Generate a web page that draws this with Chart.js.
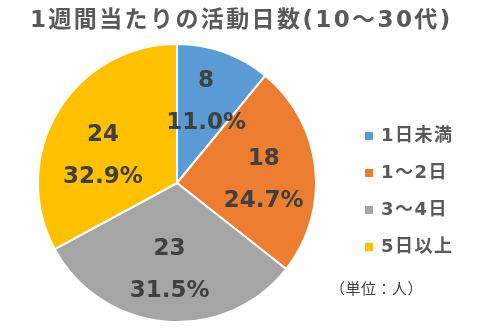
<!DOCTYPE html>
<html>
<head>
<meta charset="utf-8">
<script src="https://cdn.jsdelivr.net/npm/chart.js@4/dist/chart.umd.min.js"></script>
<style>
  html, body { margin: 0; padding: 0; background: #fff; }
</style>
</head>
<body>
<canvas id="graph" width="500" height="328"></canvas>
<script>
// タイトル
const TITLE = '1週間当たりの活動日数(10～30代)';
// 凡例ラベル
const LABELS = ['1日未満', '1～2日', '3～4日', '5日以上'];
// 人数
const COUNTS = [8, 18, 23, 24];
// 割合(%)
const PERCENTS = ['11.0%', '24.7%', '31.5%', '32.9%'];
// 単位
const UNIT_TEXT = '（単位：人）';
// 色
const COLORS = ['#5B9BD5', '#ED7D31', '#A5A5A5', '#FFC000'];

// ラベル位置の微調整(px)
const LABEL_NUDGE = [[0, 0], [1, 6], [0, 1], [0, 17]];

const FONT = '"DejaVu Sans", "Noto Sans CJK JP", sans-serif';

// データラベル・タイトル・凡例を描く
const drawTexts = {
  id: 'drawTexts',
  afterDatasetsDraw(chart) {
    const ctx = chart.ctx;
    const meta = chart.getDatasetMeta(0);
    ctx.save();
    ctx.textAlign = 'center';
    ctx.textBaseline = 'middle';
    ctx.fillStyle = '#404040';
    ctx.font = 'bold 23px ' + FONT;
    meta.data.forEach(function(arc, i) {
      const mid = (arc.startAngle + arc.endAngle) / 2;
      const r = arc.outerRadius * 0.62;
      const x = arc.x + Math.cos(mid) * r + LABEL_NUDGE[i][0];
      const y = arc.y + Math.sin(mid) * r + LABEL_NUDGE[i][1];
      ctx.fillText(String(COUNTS[i]), x, y - 21);
      ctx.fillText(PERCENTS[i], x, y + 21);
    });

    // タイトル
    ctx.fillStyle = '#595959';
    ctx.font = 'bold 23px ' + FONT;
    ctx.textAlign = 'left';
    ctx.letterSpacing = '2.4px';
    ctx.fillText(TITLE, 30, 21);

    // 凡例
    ctx.font = 'bold 18px ' + FONT;
    ctx.letterSpacing = '1.5px';
    LABELS.forEach(function(label, i) {
      const y = 136 + i * 37;
      ctx.fillStyle = COLORS[i];
      ctx.fillRect(365, y - 4, 8, 8);
      ctx.fillStyle = '#595959';
      ctx.fillText(label, 381, y);
    });

    // 単位
    ctx.letterSpacing = '0.5px';
    ctx.font = '15px ' + FONT;
    ctx.fillStyle = '#404040';
    ctx.fillText(UNIT_TEXT, 330, 290);
    ctx.restore();
  }
};

new Chart(document.getElementById('graph'), {
  type: 'pie',
  data: {
    labels: LABELS,
    datasets: [{
      data: COUNTS,
      backgroundColor: COLORS,
      borderColor: '#ffffff',
      borderWidth: 2
    }]
  },
  options: {
    responsive: false,
    animation: false,
    layout: { padding: { left: 37, right: 183, top: 43, bottom: 5 } },
    plugins: {
      legend: { display: false },
      title: { display: false },
      tooltip: { enabled: false }
    }
  },
  plugins: [drawTexts]
});
</script>
</body>
</html>
